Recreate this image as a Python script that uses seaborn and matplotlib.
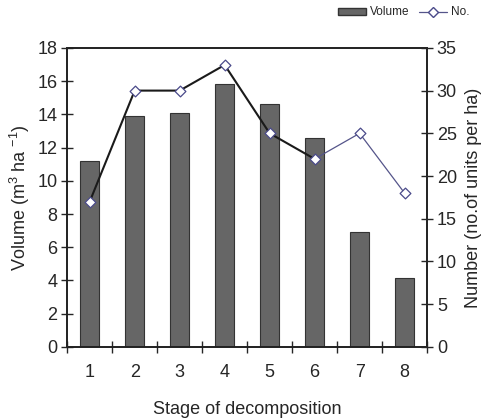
import matplotlib
matplotlib.use("Agg")
import matplotlib.pyplot as plt
import seaborn as sns
import pandas as pd
import numpy as np
from matplotlib.ticker import FixedLocator, MultipleLocator
from matplotlib.patches import Patch
from matplotlib.lines import Line2D

stages = ["1", "2", "3", "4", "5", "6", "7", "8"]
volume = [11.2, 13.9, 14.1, 15.8, 14.6, 12.6, 6.9, 4.15]
number = [17, 30, 30, 33, 25, 22, 25, 18]

sns.set_style("white")
plt.rcParams["font.family"] = ["Liberation Sans", "DejaVu Sans"]
plt.rcParams["mathtext.default"] = "regular"

df = pd.DataFrame({"stage": stages, "volume": volume, "number": number})
df["pos"] = np.arange(len(stages))

FS = 13

fig = plt.figure(figsize=(4.87, 4.2), dpi=100)
ax = fig.add_axes([0.138, 0.174, 0.739, 0.712])

sns.barplot(data=df, x="stage", y="volume", ax=ax, color="#666666",
            edgecolor="#333333", linewidth=0.8, width=0.42, saturation=1)
ax.set_xlim(-0.5, 7.5)
ax.set_ylim(0, 18)
ax.yaxis.set_major_locator(MultipleLocator(2))
ax.set_xlabel("Stage of decomposition", fontsize=FS, labelpad=15)
ax.set_ylabel("Volume (m$^3$ ha $^{-1}$)", fontsize=FS, labelpad=4)
ax.tick_params(axis="y", direction="inout", length=8, width=1, labelsize=FS, pad=3)
ax.xaxis.set_minor_locator(FixedLocator(np.arange(-0.5, 8, 1)))
ax.tick_params(axis="x", which="major", length=0, labelsize=FS, pad=12)
ax.tick_params(axis="x", which="minor", direction="inout", length=8, width=1, bottom=True)
for s in ["left", "right", "bottom", "top"]:
    ax.spines[s].set_linewidth(1.2)
    ax.spines[s].set_color("black")

ax2 = ax.twinx()
first = df.iloc[:6]
last = df.iloc[5:]
sns.lineplot(data=first, x="pos", y="number", ax=ax2, color="#1a1a1a", linewidth=1.5, legend=False)
sns.lineplot(data=last, x="pos", y="number", ax=ax2, color="#55558a", linewidth=0.9, legend=False)
sns.scatterplot(data=df, x="pos", y="number", ax=ax2, marker="D", s=30,
                facecolor="white", edgecolor="#4a4a8a", linewidth=0.9, zorder=5)
ax2.set_ylim(0, 35)
ax2.set_xlim(-0.5, 7.5)
ax2.yaxis.set_major_locator(MultipleLocator(5))
ax2.set_ylabel("Number (no.of units per ha)", fontsize=FS, labelpad=6)
ax2.tick_params(axis="y", direction="inout", length=8, width=1, labelsize=FS, pad=3)
ax2.set_xlabel("")
for s in ["left", "right", "bottom", "top"]:
    ax2.spines[s].set_linewidth(1.2)

handles = [Patch(facecolor="#666666", edgecolor="#333333", label="Volume"),
           Line2D([0], [0], color="#55558a", lw=0.9, marker="D", markersize=5,
                  markerfacecolor="white", markeredgecolor="#4a4a8a", label="No.")]
fig.legend(handles=handles, loc="upper right", bbox_to_anchor=(0.985, 1.01), ncol=2,
           frameon=False, fontsize=8.5, handlelength=2.4, handletextpad=0.3,
           columnspacing=0.8, handleheight=0.5)

fig.savefig("out.png", dpi=100)
